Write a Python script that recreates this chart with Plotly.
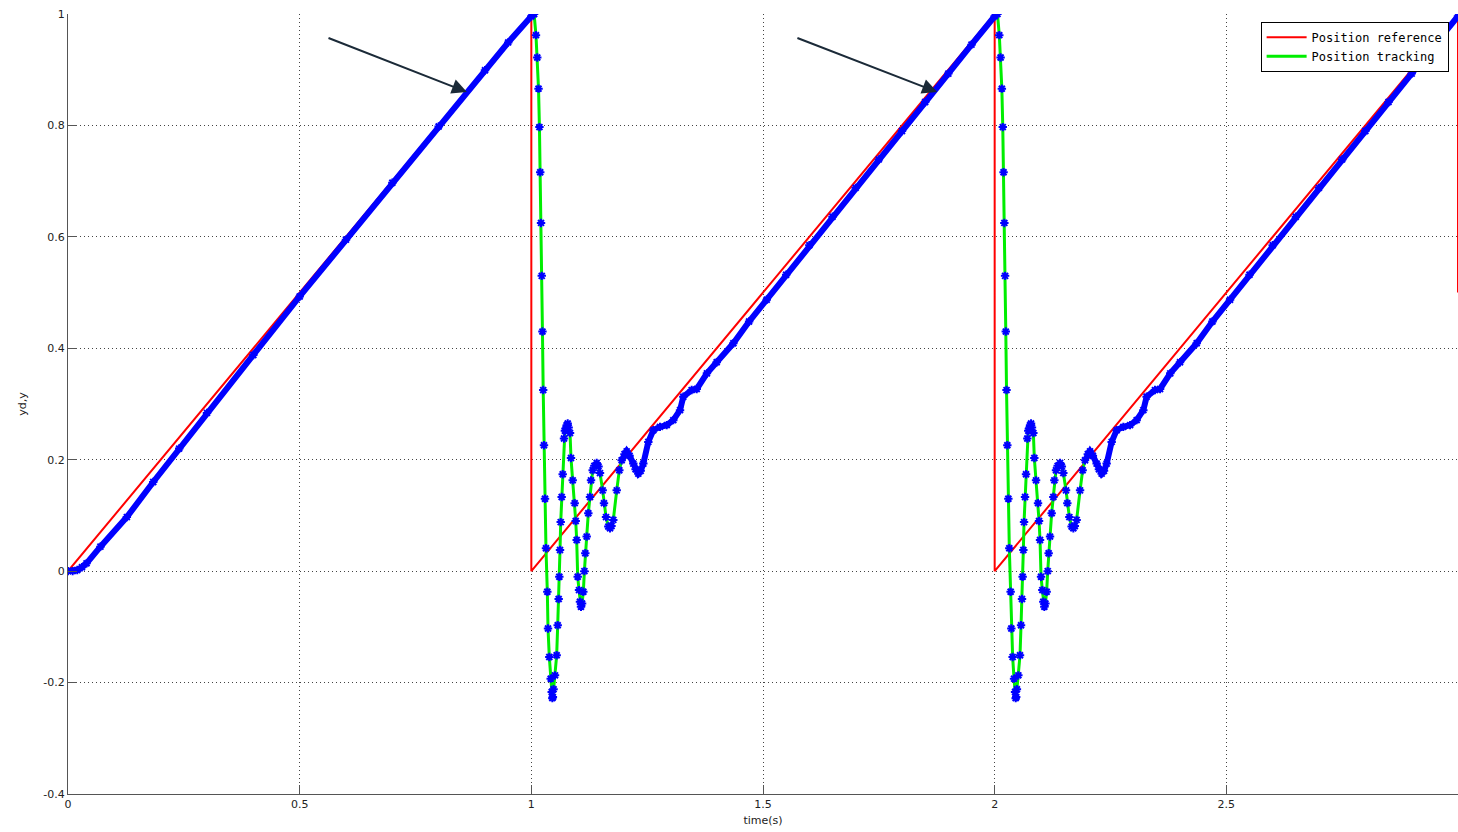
import plotly.graph_objects as go

# ---------------- data ----------------
# Reference signal (sawtooth, period 1 s)
ref_t = [0.0, 1.0, 1.0, 2.0, 2.0, 3.0, 3.0]
ref_y = [0.0, 1.0, 0.0, 1.0, 0.0, 1.0, 0.5]

# Tracking, first cycle (0 .. 1 s)
c1_t = [0.0, 0.010, 0.020, 0.030, 0.040, 0.070, 0.127, 0.184, 0.240, 0.300,
        0.400, 0.500, 0.600, 0.700, 0.800, 0.900, 0.950, 1.000, 1.005]
c1_y = [0.0, 0.0, 0.002, 0.007, 0.014, 0.044, 0.097, 0.160, 0.220, 0.284,
        0.388, 0.493, 0.595, 0.697, 0.798, 0.899, 0.949, 0.996, 1.0]

# Tracking after each reset, time measured from the reset instant
tr_dt = [0.0060, 0.0100, 0.0128, 0.0155, 0.0175, 0.0192, 0.0209, 0.0225, 0.0240,
         0.0256, 0.0273, 0.0295, 0.0316, 0.0345, 0.0360, 0.0388, 0.0418, 0.0440,
         0.0453, 0.0465, 0.0480, 0.0511, 0.0547, 0.0569, 0.0590, 0.0604, 0.0619,
         0.0634, 0.0655, 0.0677, 0.0705, 0.0725, 0.0742, 0.0765, 0.0785, 0.0805,
         0.0835, 0.0856, 0.0893, 0.0936, 0.0958, 0.0979, 0.1001, 0.1029, 0.1050,
         0.1072, 0.1095, 0.1122, 0.1145, 0.1165, 0.1195, 0.1230, 0.1266, 0.1288,
         0.1324, 0.1360, 0.1411, 0.1450, 0.1482, 0.1540, 0.1568, 0.1612, 0.1661,
         0.1698, 0.1730, 0.1769, 0.1843, 0.1899, 0.1950, 0.2010, 0.2058, 0.2120,
         0.2201, 0.2250, 0.2309, 0.2360, 0.2417, 0.2525, 0.2633, 0.2777, 0.2922,
         0.3064, 0.3209, 0.328, 0.346, 0.357, 0.379, 0.400, 0.436, 0.470, 0.508,
         0.550, 0.600, 0.650, 0.700, 0.750, 0.800, 0.850, 0.900, 0.950, 1.000]
tr_y = [1.000, 0.962, 0.922, 0.866, 0.797, 0.716, 0.625, 0.530, 0.430,
        0.325, 0.226, 0.130, 0.041, -0.037, -0.103, -0.154, -0.193, -0.217,
        -0.228, -0.226, -0.212, -0.187, -0.151, -0.097, -0.050, -0.010, 0.038,
        0.088, 0.133, 0.174, 0.238, 0.252, 0.256, 0.262, 0.265, 0.258,
        0.248, 0.203, 0.163, 0.122, 0.090, 0.056, -0.010, -0.034, -0.055,
        -0.064, -0.058, -0.037, 0.000, 0.032, 0.062, 0.104, 0.133, 0.163,
        0.181, 0.189, 0.194, 0.188, 0.176, 0.145, 0.122, 0.097, 0.080,
        0.077, 0.081, 0.092, 0.145, 0.181, 0.199, 0.210, 0.215, 0.207,
        0.193, 0.183, 0.175, 0.180, 0.193, 0.232, 0.253, 0.259, 0.262,
        0.271, 0.289, 0.313, 0.325, 0.327, 0.355, 0.375, 0.409, 0.448, 0.487,
        0.532, 0.585, 0.636, 0.688, 0.739, 0.790, 0.842, 0.893, 0.945, 0.996]

reset_times = [1.0, 2.0]
slow_from_dt = 0.19  # after this the samples are dense (look like a thick band)

x_ticks = [0, 0.5, 1, 1.5, 2, 2.5, 3]
x_tick_text = ["0", "0.5", "1", "1.5", "2", "2.5", "3"]
y_ticks = [-0.4, -0.2, 0, 0.2, 0.4, 0.6, 0.8, 1]
y_tick_text = ["-0.4", "-0.2", "0", "0.2", "0.4", "0.6", "0.8", "1"]

# arrows (tail -> head) in data coordinates
arrows = [((0.559, 0.958), (0.861, 0.860)), ((1.571, 0.958), (1.876, 0.860))]

# ---------------- build series ----------------
trk_t = list(c1_t)
trk_y = list(c1_y)
band_t = list(c1_t) + [None]
band_y = list(c1_y) + [None]
for r in reset_times:
    for dt, v in zip(tr_dt, tr_y):
        trk_t.append(r + dt)
        trk_y.append(v)
        if dt >= slow_from_dt:
            band_t.append(r + dt)
            band_y.append(v)
    band_t.append(None)
    band_y.append(None)

fig = go.Figure()
fig.add_trace(go.Scatter(x=ref_t, y=ref_y, mode="lines", name="Position reference",
                         line=dict(color="#ff0000", width=2)))
fig.add_trace(go.Scatter(x=trk_t, y=trk_y, mode="lines", name="Position tracking",
                         line=dict(color="#00ee00", width=3)))
fig.add_trace(go.Scatter(x=band_t, y=band_y, mode="lines",
                         line=dict(color="#0000ff", width=6),
                         showlegend=False, hoverinfo="skip"))
fig.add_trace(go.Scatter(x=trk_t, y=trk_y, mode="markers", showlegend=False,
                         marker=dict(symbol="asterisk-open", size=7, color="#0000ff",
                                     line=dict(color="#0000ff", width=2))))

for (tx, ty), (hx, hy) in arrows:
    fig.add_annotation(x=hx, y=hy, ax=tx, ay=ty, xref="x", yref="y",
                       axref="x", ayref="y", showarrow=True, arrowhead=2,
                       arrowsize=1.5, arrowwidth=2, arrowcolor="#1b2a38", text="")

axis_common = dict(showgrid=True, gridcolor="#444444", gridwidth=1,
                   griddash="1px,3px", zeroline=False, showline=True,
                   linecolor="#555555", linewidth=1, ticks="inside", ticklen=9,
                   tickcolor="#555555",
                   tickfont=dict(family="DejaVu Sans", size=11, color="#222222"))

fig.update_layout(
    width=1458, height=832,
    margin=dict(l=68, r=0, t=14, b=38),
    plot_bgcolor="white", paper_bgcolor="white",
    xaxis=dict(range=[0, 3], tickvals=x_ticks, ticktext=x_tick_text,
               title=dict(text="time(s)", font=dict(family="DejaVu Sans", size=11,
                                                   color="#222222"), standoff=6),
               **axis_common),
    yaxis=dict(range=[-0.4, 1], tickvals=y_ticks, ticktext=y_tick_text,
               title=dict(text="yd,y", font=dict(family="DejaVu Sans", size=11,
                                                color="#222222"), standoff=14),
               **axis_common),
    legend=dict(x=0.858, y=0.99, xanchor="left", yanchor="top",
                bgcolor="white", bordercolor="#000000", borderwidth=1,
                font=dict(family="DejaVu Sans Mono", size=12, color="#000000"),
                tracegroupgap=0, itemwidth=40),
    showlegend=True,
)

fig.write_html("out.html", config={"displayModeBar": False},
               post_script="document.body.style.margin='0';document.body.style.overflow='hidden';")
